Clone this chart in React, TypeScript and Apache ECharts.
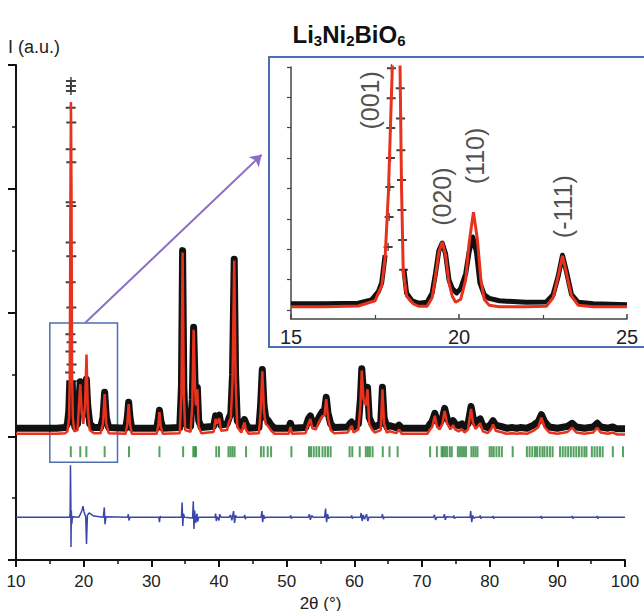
import React, { useEffect, useRef } from "react";
import * as echarts from "echarts";

const FONT = "'Liberation Sans', Arial, Helvetica, sans-serif";
const RED = "#e8321e";
const BLACK = "#111111";
const BLUE_DIFF = "#3b47a8";
const GREEN = "#2b8a3a";
const BOX_BLUE = "#4b6fb0";
const ARROW = "#8c6fc4";

// ---- main pattern, [2θ (°), I (a.u.)] ----
const mainObserved: [number, number | null][] = [
  [10, 0.13], [12, 0.13], [14, 0.13], [16, 0.13], [17.3, 0.14], [17.6, 0.2], [17.8, 0.4], [17.95, 0.9],
  [18.1, null],
  [18.3, 0.9], [18.45, 0.3], [18.7, 0.15], [19.1, 0.2], [19.3, 0.6], [19.5, 0.88], [19.7, 0.5], [19.95, 0.35],
  [20.2, 0.6], [20.4, 0.92], [20.6, 0.5], [20.9, 0.2], [21.5, 0.14], [22.5, 0.14], [22.85, 0.3], [23.1, 0.71],
  [23.35, 0.3], [23.7, 0.14], [26.2, 0.13], [26.45, 0.3], [26.65, 0.55], [26.85, 0.3], [27.1, 0.13], [30.8, 0.13],
  [31.05, 0.3], [31.2, 0.42], [31.4, 0.25], [31.7, 0.13], [34.2, 0.14], [34.45, 0.8], [34.62, 3.0], [34.8, 0.8],
  [35.0, 0.2], [35.8, 0.16], [36.05, 0.6], [36.25, 1.76], [36.45, 0.9], [36.6, 0.6], [36.8, 0.79], [37.0, 0.25],
  [37.4, 0.14], [39.2, 0.16], [39.5, 0.33], [39.7, 0.28], [40.05, 0.34], [40.3, 0.18], [41.2, 0.2], [41.5, 0.3],
  [41.75, 0.36], [42.0, 1.0], [42.25, 2.86], [42.45, 1.0], [42.7, 0.25], [43.3, 0.15], [43.75, 0.27], [44.0, 0.2],
  [44.4, 0.13], [45.9, 0.14], [46.15, 0.5], [46.4, 1.08], [46.65, 0.5], [46.9, 0.3], [47.3, 0.25], [47.7, 0.18],
  [48.2, 0.13], [50.3, 0.13], [50.55, 0.21], [50.8, 0.13], [52.8, 0.14], [53.2, 0.28], [53.5, 0.33], [53.8, 0.22],
  [54.3, 0.2], [54.9, 0.33], [55.3, 0.4], [55.6, 0.42], [55.85, 0.63], [56.1, 0.38], [56.5, 0.2], [57.0, 0.14],
  [59.0, 0.15], [59.4, 0.21], [59.6, 0.23], [59.9, 0.15], [60.6, 0.2], [60.9, 0.6], [61.1, 1.09], [61.35, 0.7],
  [61.7, 0.6], [61.95, 0.79], [62.2, 0.3], [62.6, 0.2], [63.0, 0.15], [63.9, 0.2], [64.15, 0.79], [64.4, 0.3],
  [64.8, 0.15], [65.2, 0.17], [66.2, 0.14], [66.6, 0.18], [67.0, 0.13], [70.8, 0.13], [71.2, 0.2], [71.5, 0.24],
  [71.9, 0.37], [72.2, 0.25], [72.6, 0.2], [73.0, 0.29], [73.35, 0.45], [73.7, 0.29], [74.2, 0.2], [74.6, 0.25],
  [74.9, 0.2], [75.4, 0.17], [75.9, 0.2], [76.3, 0.15], [76.8, 0.2], [77.25, 0.48], [77.55, 0.3], [77.9, 0.21],
  [78.6, 0.28], [79.0, 0.17], [79.7, 0.14], [80.2, 0.2], [80.5, 0.25], [80.9, 0.18], [81.6, 0.16], [81.9, 0.15],
  [82.5, 0.13], [83.4, 0.14], [84.0, 0.13], [84.5, 0.14], [85.5, 0.13], [86.5, 0.18], [87.2, 0.24], [87.65, 0.35],
  [88.1, 0.24], [88.8, 0.15], [90.0, 0.13], [91.5, 0.16], [92.2, 0.21], [92.8, 0.15], [94.0, 0.13], [95.3, 0.15],
  [95.9, 0.21], [96.4, 0.15], [97.5, 0.13], [98.2, 0.15], [98.8, 0.12], [100, 0.12],
];

// individual observed points on the flanks of the (001) reflection
const mainObserved001Points: [number, number][] = [
  [18.12, 5.74], [18.12, 5.66], [18.12, 5.58], [18.08, 5.31], [18.17, 5.07], [18.08, 4.64], [18.17, 4.43],
  [18.08, 3.78], [18.17, 3.72], [18.08, 3.13], [18.17, 2.91], [18.08, 2.49], [18.17, 2.08], [18.04, 1.65],
  [18.21, 1.52], [18.04, 1.37], [18.21, 1.16], [18.0, 1.03], [18.25, 0.89],
];

const mainCalculated: [number, number][] = [
  [10, 0.04], [12, 0.04], [14, 0.04], [16, 0.04], [17.3, 0.05], [17.6, 0.08], [17.85, 0.3], [17.95, 1.0],
  [18.05, 4.0], [18.12, 5.4], [18.2, 4.0], [18.28, 1.0], [18.4, 0.3], [18.6, 0.08], [19.1, 0.1], [19.3, 0.5],
  [19.5, 0.84], [19.7, 0.4], [19.95, 0.2], [20.2, 0.5], [20.42, 1.32], [20.62, 0.4], [20.9, 0.1], [21.5, 0.05],
  [22.5, 0.05], [22.85, 0.2], [23.1, 0.68], [23.35, 0.2], [23.7, 0.05], [26.2, 0.04], [26.45, 0.2], [26.65, 0.52],
  [26.85, 0.2], [27.1, 0.04], [30.8, 0.04], [31.05, 0.2], [31.2, 0.39], [31.4, 0.15], [31.7, 0.04], [34.2, 0.05],
  [34.45, 0.7], [34.62, 2.97], [34.8, 0.7], [35.0, 0.1], [35.8, 0.07], [36.05, 0.5], [36.25, 1.72], [36.45, 0.8],
  [36.6, 0.5], [36.8, 0.76], [37.0, 0.15], [37.4, 0.05], [39.2, 0.07], [39.5, 0.28], [39.7, 0.2], [40.05, 0.29],
  [40.3, 0.09], [41.2, 0.1], [41.5, 0.24], [41.75, 0.3], [42.0, 0.9], [42.25, 2.84], [42.45, 0.9], [42.7, 0.15],
  [43.3, 0.06], [43.75, 0.22], [44.0, 0.1], [44.4, 0.04], [45.9, 0.05], [46.15, 0.4], [46.4, 1.05], [46.65, 0.4],
  [46.9, 0.2], [47.3, 0.16], [47.7, 0.09], [48.2, 0.04], [50.3, 0.04], [50.55, 0.15], [50.8, 0.04], [52.8, 0.05],
  [53.2, 0.2], [53.5, 0.28], [53.8, 0.13], [54.3, 0.11], [54.9, 0.26], [55.3, 0.33], [55.6, 0.34], [55.85, 0.6],
  [56.1, 0.3], [56.5, 0.1], [57.0, 0.05], [59.0, 0.06], [59.4, 0.13], [59.6, 0.17], [59.9, 0.06], [60.6, 0.11],
  [60.9, 0.5], [61.1, 1.06], [61.35, 0.6], [61.7, 0.5], [61.95, 0.76], [62.2, 0.2], [62.6, 0.11], [63.0, 0.06],
  [63.9, 0.1], [64.15, 0.76], [64.4, 0.2], [64.8, 0.06], [65.2, 0.08], [66.2, 0.05], [66.6, 0.11], [67.0, 0.04],
  [70.8, 0.04], [71.2, 0.11], [71.5, 0.15], [71.9, 0.33], [72.2, 0.16], [72.6, 0.11], [73.0, 0.2], [73.35, 0.41],
  [73.7, 0.21], [74.2, 0.11], [74.6, 0.18], [74.9, 0.11], [75.4, 0.08], [75.9, 0.11], [76.3, 0.06], [76.8, 0.11],
  [77.25, 0.44], [77.55, 0.21], [77.9, 0.12], [78.6, 0.21], [79.0, 0.08], [79.7, 0.05], [80.2, 0.11], [80.5, 0.19],
  [80.9, 0.09], [81.6, 0.07], [81.9, 0.06], [82.5, 0.04], [83.4, 0.05], [84.0, 0.04], [84.5, 0.05], [85.5, 0.04],
  [86.5, 0.09], [87.2, 0.15], [87.65, 0.3], [88.1, 0.15], [88.8, 0.06], [90.0, 0.04], [91.5, 0.07], [92.2, 0.14],
  [92.8, 0.06], [94.0, 0.04], [95.3, 0.06], [95.9, 0.14], [96.4, 0.06], [97.5, 0.04], [98.2, 0.06], [98.8, 0.03],
  [100, 0.03],
];

const mainDifference: [number, number][] = [
  [10, -1.31], [17.9, -1.31], [18.0, -1.25], [18.05, -0.47], [18.1, -1.0], [18.13, -1.79], [18.18, -1.2],
  [18.24, -1.42], [18.35, -1.3], [19.3, -1.31], [19.5, -1.26], [19.75, -1.2], [19.9, -1.13], [20.05, -1.22],
  [20.3, -1.3], [20.42, -1.74], [20.55, -1.28], [20.8, -1.24], [21.5, -1.29], [22.9, -1.31], [23.05, -1.15],
  [23.15, -1.42], [23.3, -1.3], [26.5, -1.31], [26.6, -1.26], [26.7, -1.36], [26.85, -1.31], [31.1, -1.31],
  [31.2, -1.39], [31.3, -1.29], [31.4, -1.31], [34.45, -1.31], [34.55, -1.07], [34.65, -1.45], [34.75, -1.25],
  [34.9, -1.31], [36.1, -1.32], [36.2, -1.05], [36.3, -1.5], [36.4, -1.2], [36.55, -1.4], [36.75, -1.25],
  [36.85, -1.38], [37.0, -1.31], [39.4, -1.31], [39.5, -1.25], [39.6, -1.37], [39.75, -1.3], [40.0, -1.36],
  [40.1, -1.26], [40.3, -1.31], [41.5, -1.31], [41.7, -1.27], [41.9, -1.36], [42.15, -1.21], [42.3, -1.4],
  [42.45, -1.28], [42.6, -1.31], [43.7, -1.31], [43.8, -1.27], [43.9, -1.34], [44.0, -1.31], [46.2, -1.31],
  [46.35, -1.21], [46.45, -1.39], [46.6, -1.27], [46.75, -1.33], [46.9, -1.31], [50.5, -1.31], [50.6, -1.28],
  [50.7, -1.33], [50.8, -1.31], [53.2, -1.31], [53.35, -1.26], [53.5, -1.35], [53.7, -1.28], [53.9, -1.31],
  [55.6, -1.31], [55.75, -1.17], [55.9, -1.39], [56.05, -1.26], [56.2, -1.33], [56.4, -1.31], [59.5, -1.31],
  [59.6, -1.28], [59.7, -1.33], [59.8, -1.31], [60.9, -1.31], [61.0, -1.24], [61.15, -1.37], [61.3, -1.27],
  [61.5, -1.34], [61.8, -1.26], [62.0, -1.37], [62.15, -1.31], [64.05, -1.31], [64.15, -1.26], [64.3, -1.34],
  [64.4, -1.31], [71.7, -1.31], [71.85, -1.27], [72.0, -1.35], [72.2, -1.31], [73.2, -1.31], [73.3, -1.26],
  [73.45, -1.35], [73.6, -1.3], [74.6, -1.31], [74.7, -1.28], [74.8, -1.33], [75.0, -1.31], [77.1, -1.31],
  [77.2, -1.21], [77.35, -1.39], [77.5, -1.28], [77.7, -1.33], [77.9, -1.31], [78.5, -1.31], [78.6, -1.28],
  [78.7, -1.33], [78.8, -1.31], [80.4, -1.31], [80.5, -1.29], [80.6, -1.33], [80.7, -1.31], [87.5, -1.31],
  [87.6, -1.29], [87.7, -1.33], [87.8, -1.31], [92.1, -1.31], [92.2, -1.29], [92.3, -1.33], [92.4, -1.31],
  [95.8, -1.31], [95.9, -1.29], [96.0, -1.33], [96.1, -1.31], [100, -1.31],
];

const braggPositions: number[] = [
  18.1, 19.5, 20.4, 23.1, 26.7, 31.2, 34.7, 36.2, 36.4, 36.6, 39.6, 40.0, 41.4, 41.7, 42.0, 42.3, 44.0,
  46.2, 46.6, 47.2, 47.7, 50.7, 53.3, 53.6, 54.0, 54.4, 54.8, 55.3, 55.7, 56.1, 56.5, 59.3, 59.7, 60.8,
  61.7, 62.0, 62.3, 62.7, 64.2, 65.2, 66.4, 71.2, 72.2, 72.9, 73.1, 73.4, 73.7, 74.1, 74.4, 75.3, 75.6,
  75.9, 76.2, 76.5, 77.3, 77.6, 77.9, 78.2, 80.0, 80.3, 80.6, 81.0, 81.4, 81.8, 83.4, 85.5, 85.9, 86.3,
  86.7, 87.0, 87.4, 87.8, 88.1, 88.5, 88.9, 89.3, 90.4, 90.8, 91.2, 91.6, 92.0, 92.4, 92.8, 93.2, 93.6,
  94.0, 94.3, 95.1, 95.5, 95.9, 96.3, 96.7, 98.2, 99.7,
];
const braggLevel = -0.25;

// ---- inset (15–25°), its own intensity scale ----
const insetObserved: [number, number | null][] = [
  [15, 0.2], [16, 0.2], [17, 0.22], [17.4, 0.33], [17.6, 0.6], [17.7, 0.9], [17.8, 1.8],
  [18.1, null],
  [18.36, 1.35], [18.44, 0.55], [18.6, 0.3], [18.8, 0.22], [19.05, 0.25], [19.2, 0.55], [19.3, 1.2],
  [19.4, 1.95], [19.5, 2.2], [19.6, 1.85], [19.7, 1.0], [19.8, 0.7], [19.93, 0.56], [20.05, 0.7], [20.2, 1.2],
  [20.3, 1.9], [20.41, 2.4], [20.52, 1.9], [20.62, 0.9], [20.75, 0.5], [20.9, 0.38], [21.2, 0.3], [22, 0.25],
  [22.6, 0.26], [22.8, 0.5], [22.95, 1.1], [23.08, 1.8], [23.2, 1.25], [23.35, 0.5], [23.55, 0.25], [24, 0.2],
  [25, 0.17],
];
const insetObserved001Points: [number, number][] = [
  [17.99, 7.96], [17.98, 6.97], [17.97, 5.99], [17.96, 5.0], [17.94, 4.05], [17.92, 3.06], [17.89, 2.07],
  [18.25, 7.3], [18.26, 6.3], [18.27, 5.26], [18.29, 4.28], [18.3, 3.29], [18.32, 2.3], [18.35, 1.32],
];
const insetCalculated: [number, number][] = [
  [15, 0.1], [16, 0.1], [17, 0.13], [17.5, 0.3], [17.7, 0.8], [17.8, 1.7], [17.9, 3.9], [18.03, 8.5],
  [18.13, 13], [18.24, 8.5], [18.29, 4.0], [18.34, 1.3], [18.44, 0.45], [18.64, 0.2], [18.8, 0.12],
  [19.05, 0.12], [19.2, 0.4], [19.3, 1.1], [19.4, 1.9], [19.5, 2.24], [19.6, 1.8], [19.7, 0.9], [19.8, 0.45],
  [19.9, 0.25], [20.05, 0.35], [20.2, 1.0], [20.3, 2.2], [20.43, 3.22], [20.55, 2.3], [20.65, 1.0],
  [20.75, 0.35], [20.9, 0.15], [21.2, 0.1], [22, 0.1], [22.6, 0.12], [22.8, 0.4], [22.95, 1.1], [23.08, 1.78],
  [23.2, 1.2], [23.35, 0.45], [23.55, 0.15], [24, 0.1], [25, 0.1],
];
const insetTickValues: number[] = [0, 1, 2, 3, 4, 5, 6, 7, 8];
const hklLabels: { hkl: string; x: number; y: number }[] = [
  { hkl: "(001)", x: 17.35, y: 6.9 },
  { hkl: "(020)", x: 19.49, y: 3.73 },
  { hkl: "(110)", x: 20.48, y: 5.07 },
  { hkl: "(-111)", x: 23.1, y: 3.4 },
];

// zoom box (15–25°) and arrow, in main data coordinates
const zoomBox = { x0: 15, x1: 25, yTop: 1.83, yBottom: -0.42 };
const arrowFrom: [number, number] = [20.2, 1.83];
const arrowTo: [number, number] = [46.3, 4.55];

const CROSS = "path://M0,3L8,3L8,5L0,5Z M3.4,0L4.6,0L4.6,8L3.4,8Z";

const gapped = (pts: [number, number | null][]) =>
  pts.map(([x, y]) => (y === null ? [x, "-"] : [x, y]));

export default function App() {
  const ref = useRef<HTMLDivElement>(null);

  useEffect(() => {
    if (!ref.current) return;
    const chart = echarts.init(ref.current, undefined, { renderer: "svg" });

    const option: any = {
      animation: false,
      backgroundColor: "#ffffff",
      grid: [
        { left: 16, right: 19, top: 65, bottom: 51, containLabel: false, outerBoundsMode: "none" },
        { left: 291, top: 67, width: 336, height: 252, containLabel: false, outerBoundsMode: "none" },
      ],
      xAxis: [
        {
          type: "value",
          gridIndex: 0,
          min: 10,
          max: 100,
          interval: 10,
          splitLine: { show: false },
          axisLine: { show: true, onZero: false, lineStyle: { color: BLACK, width: 2 } },
          axisTick: { show: true, length: 7, lineStyle: { color: BLACK, width: 2 } },
          minorTick: { show: true, splitNumber: 2, length: 4, lineStyle: { color: BLACK, width: 1.5 } },
          axisLabel: { fontSize: 17, color: "#222", margin: 13, fontFamily: FONT },
          name: "2θ (°)",
          nameLocation: "middle",
          nameGap: 31,
          nameTextStyle: { fontSize: 17, color: "#222", fontFamily: FONT, lineHeight: 17 },
        },
        {
          type: "value",
          gridIndex: 1,
          min: 15,
          max: 25,
          interval: 5,
          splitLine: { show: false },
          axisLine: { show: true, onZero: false, lineStyle: { color: "#444", width: 1.5 } },
          axisTick: { show: true, inside: true, length: 5, lineStyle: { color: "#444", width: 1.5 } },
          minorTick: { show: true, splitNumber: 2, length: 4, lineStyle: { color: "#444", width: 1.2 } },
          axisLabel: { fontSize: 20, color: "#222", margin: 8, fontFamily: FONT },
        },
      ],
      yAxis: [
        {
          type: "value",
          gridIndex: 0,
          min: -2,
          max: 6,
          interval: 2,
          splitLine: { show: false },
          axisLine: { show: true, onZero: false, lineStyle: { color: BLACK, width: 2 } },
          axisTick: { show: true, length: 8, lineStyle: { color: BLACK, width: 2 } },
          minorTick: { show: true, splitNumber: 2, length: 4, lineStyle: { color: BLACK, width: 1.5 } },
          axisLabel: { show: false },
        },
        {
          type: "value",
          gridIndex: 1,
          min: -0.3,
          max: 8,
          splitLine: { show: false },
          axisLine: { show: true, onZero: false, lineStyle: { color: "#444", width: 1.5 } },
          axisTick: { show: true, length: 4, customValues: insetTickValues, lineStyle: { color: "#444", width: 1.2 } },
          axisLabel: { show: false },
        },
      ],
      graphic: [
        {
          type: "rect",
          shape: { x: 269, y: 57, width: 400, height: 290 },
          style: { fill: "none", stroke: BOX_BLUE, lineWidth: 2 },
          silent: true,
        },
        {
          type: "text",
          left: 8,
          top: 38,
          style: { text: "I (a.u.)", fontSize: 18, fill: "#222", fontFamily: FONT },
          silent: true,
        },
        {
          type: "text",
          x: 349,
          y: 34,
          style: {
            text: "{a|Li}{b|3}{a|Ni}{b|2}{a|BiO}{b|6}",
            align: "center",
            verticalAlign: "middle",
            rich: {
              a: { fontSize: 24, fontWeight: "bold", fontFamily: FONT, fill: BLACK, lineHeight: 28, verticalAlign: "middle" },
              b: { fontSize: 15, fontWeight: "bold", fontFamily: FONT, fill: BLACK, lineHeight: 15, verticalAlign: "bottom" },
            },
          },
          silent: true,
        },
      ],
      series: [
        {
          type: "scatter",
          name: "Bragg",
          xAxisIndex: 0,
          yAxisIndex: 0,
          data: braggPositions.map((p) => [p, braggLevel]),
          symbol: "rect",
          symbolSize: [2, 11],
          itemStyle: { color: GREEN },
          silent: true,
        },
        {
          type: "line",
          name: "difference",
          xAxisIndex: 0,
          yAxisIndex: 0,
          data: mainDifference,
          showSymbol: false,
          lineStyle: { color: BLUE_DIFF, width: 1.5 },
          silent: true,
          markArea: {
            silent: true,
            itemStyle: { color: "rgba(0,0,0,0)", borderColor: BOX_BLUE, borderWidth: 1.5 },
            data: [[{ coord: [zoomBox.x0, zoomBox.yTop] }, { coord: [zoomBox.x1, zoomBox.yBottom] }]],
          },
          markLine: {
            silent: true,
            symbol: ["none", "arrow"],
            symbolSize: 11,
            label: { show: false },
            lineStyle: { color: ARROW, width: 2, type: "solid" },
            data: [[{ coord: arrowFrom }, { coord: arrowTo }]],
          },
        },
        {
          type: "line",
          name: "observed",
          xAxisIndex: 0,
          yAxisIndex: 0,
          data: gapped(mainObserved),
          showSymbol: false,
          connectNulls: false,
          lineStyle: { color: BLACK, width: 7, join: "round" },
          silent: true,
        },
        {
          type: "line",
          name: "calculated",
          xAxisIndex: 0,
          yAxisIndex: 0,
          data: mainCalculated,
          showSymbol: false,
          lineStyle: { color: RED, width: 2.5 },
          silent: true,
        },
        {
          type: "scatter",
          name: "observed (001)",
          xAxisIndex: 0,
          yAxisIndex: 0,
          data: mainObserved001Points,
          symbol: CROSS,
          symbolSize: [10, 8],
          itemStyle: { color: BLACK },
          silent: true,
        },
        // inset
        {
          type: "line",
          name: "inset observed",
          xAxisIndex: 1,
          yAxisIndex: 1,
          data: gapped(insetObserved),
          showSymbol: false,
          connectNulls: false,
          lineStyle: { color: BLACK, width: 5, join: "round" },
          silent: true,
        },
        {
          type: "line",
          name: "inset calculated",
          xAxisIndex: 1,
          yAxisIndex: 1,
          data: insetCalculated,
          showSymbol: false,
          lineStyle: { color: RED, width: 3 },
          silent: true,
        },
        {
          type: "scatter",
          name: "inset observed (001)",
          xAxisIndex: 1,
          yAxisIndex: 1,
          data: insetObserved001Points,
          symbol: CROSS,
          symbolSize: [9, 8],
          itemStyle: { color: BLACK },
          silent: true,
        },
        {
          type: "scatter",
          name: "hkl",
          xAxisIndex: 1,
          yAxisIndex: 1,
          data: hklLabels.map((h) => ({ value: [h.x, h.y], name: h.hkl })),
          symbolSize: 1,
          itemStyle: { color: "rgba(0,0,0,0)" },
          label: {
            show: true,
            formatter: "{b}",
            position: "inside",
            rotate: 90,
            fontSize: 25,
            color: "#222",
            fontFamily: FONT,
          },
          silent: true,
        },
      ],
    };

    chart.setOption(option);
    return () => chart.dispose();
  }, []);

  return (
    <div
      ref={ref}
      style={{ position: "fixed", left: 0, top: 0, width: 644, height: 611, background: "#fff" }}
    />
  );
}
